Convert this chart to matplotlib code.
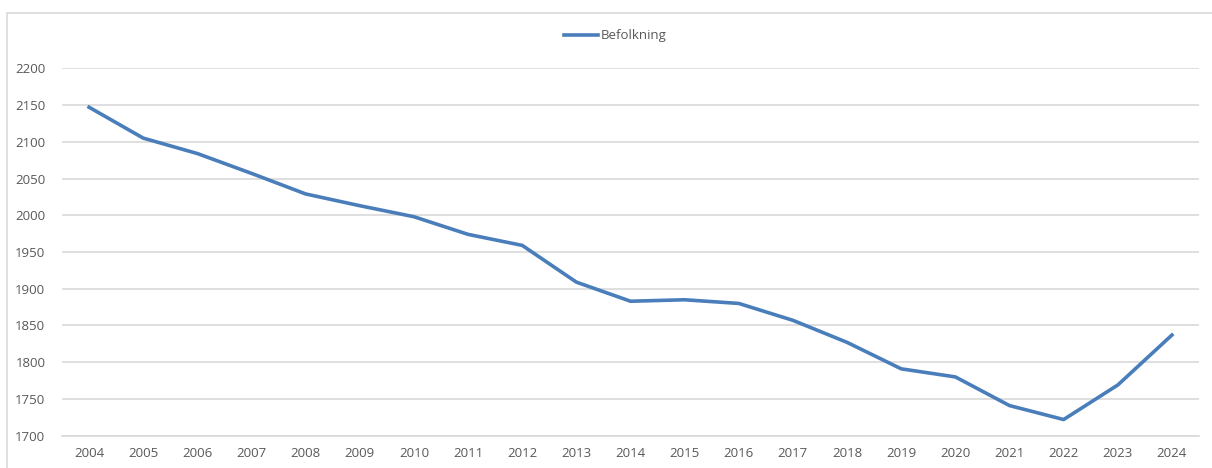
import matplotlib.pyplot as plt
from matplotlib.patches import Rectangle

years = [str(y) for y in range(2004, 2025)]
befolkning = [2147, 2105, 2084, 2057, 2029, 2013, 1998, 1974, 1959, 1909,
              1883, 1885, 1880, 1857, 1827, 1791, 1780, 1741, 1722, 1769, 1837]
y_ticks = list(range(1700, 2201, 50))

line_color = "#4A7EBB"
grid_color = "#D9D9D9"
text_color = "#595959"

plt.rcParams["font.family"] = ["Open Sans", "DejaVu Sans"]

fig = plt.figure(figsize=(12.12, 4.68), dpi=100)
ax = fig.add_axes([62 / 1212, 1 - 435.7 / 468, 1137 / 1212, (435.7 - 68.3) / 468])

# outer chart border (cut off on the right and bottom)
fig.patches.append(Rectangle((7 / 1212, -0.1), 1.2, 1 - 12.7 / 468 + 0.1,
                             transform=fig.transFigure, fill=False,
                             edgecolor=grid_color, linewidth=1.2))

x = list(range(len(years)))
ax.plot(x, befolkning, color=line_color, linewidth=2.6,
        solid_joinstyle="round", label="Befolkning")

ax.set_xlim(-0.5, len(years) - 0.5)
ax.set_ylim(1700, 2200)
ax.set_yticks(y_ticks)
ax.set_xticks(x)
ax.set_xticklabels(years)
ax.grid(axis="y", color=grid_color, linewidth=1.2)
ax.set_axisbelow(True)
for side in ["top", "right", "left"]:
    ax.spines[side].set_visible(False)
ax.spines["bottom"].set_color(grid_color)
ax.spines["bottom"].set_linewidth(1.2)
ax.tick_params(axis="both", length=0, labelsize=9.5, colors=text_color)
ax.tick_params(axis="y", pad=12)
ax.tick_params(axis="x", pad=8)

ax.legend(loc="center", bbox_to_anchor=(615 / 1212, 1 - 36 / 468),
          bbox_transform=fig.transFigure, frameon=False, fontsize=9.5,
          handlelength=2.6, handletextpad=0.2, labelcolor=text_color)

fig.savefig("out.png", dpi=100)
